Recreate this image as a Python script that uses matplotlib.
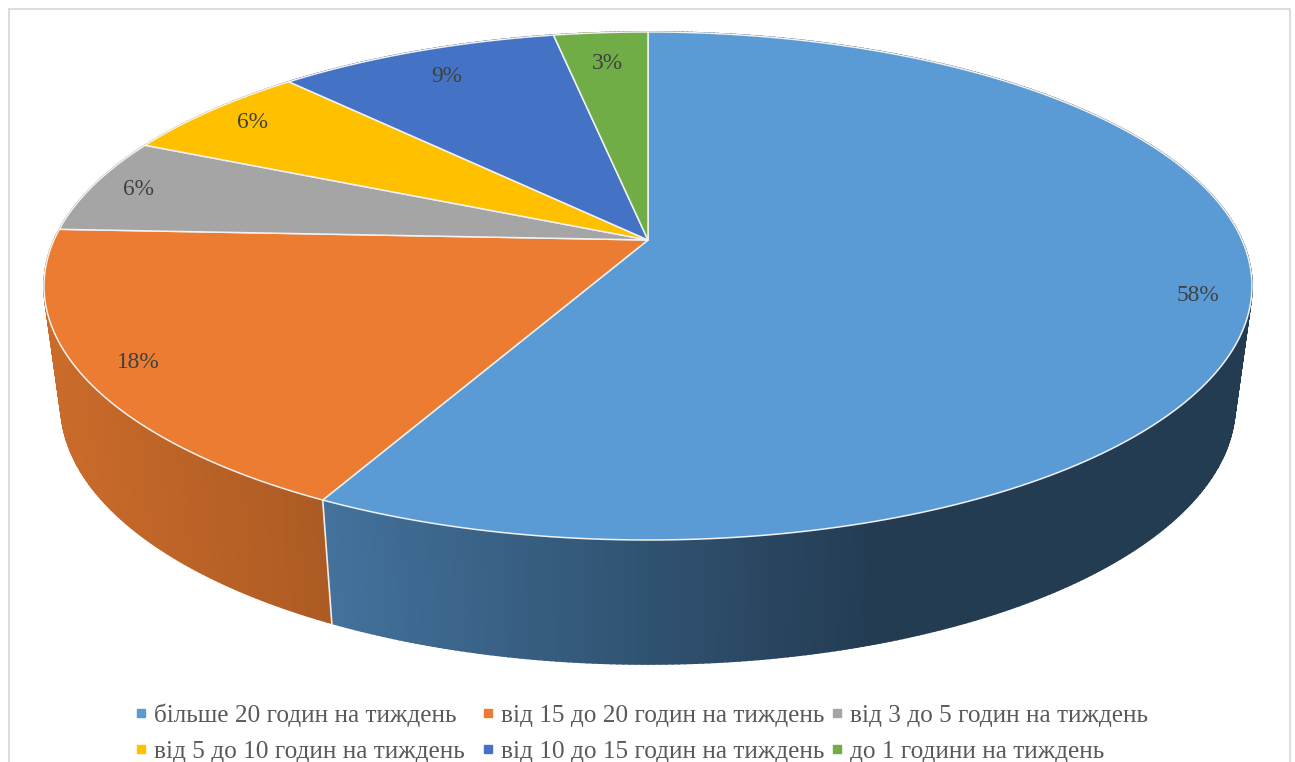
import matplotlib
matplotlib.use('Agg')
import matplotlib.pyplot as plt
import numpy as np
from matplotlib.patches import Polygon, Rectangle

categories = ['більше 20 годин на тиждень', 'від 15 до 20 годин на тиждень',
              'від 3 до 5 годин на тиждень', 'від 5 до 10 годин на тиждень',
              'від 10 до 15 годин на тиждень', 'до 1 години на тиждень']
shares = [57.6, 18.1, 6.1, 6.2, 9.0, 3.0]
colors = ['#5B9BD5', '#EB7C31', '#A5A5A5', '#FFC000', '#4472C4', '#70AD47']

# radial place of each percent label, fraction of the radius
label_r = [0.915, 0.91, 0.916, 0.898, 0.85, 0.83]

# legend grid in pixels, the gaps in the reference are not even
legend_x = [141, 488, 837]
legend_y = [722, 758]

# perspective of the top disc, fitted to the picture in pixels
CX, CY = 648, 240
B, A, K = 594, 245.7, 0.181
TOP_MID, BOTTOM_S = 540, 1.02
BOTTOM_Y, BOTTOM_SX = 664, 0.972


def top_xy(u, v):
    w = 1 + K * v
    return CX + B * u / w, CY - A * v / w


def rim(angle):
    # angle in degrees, clockwise from 12 o'clock
    a = np.radians(angle)
    return top_xy(np.sin(a), np.cos(a))


def lower(x, y):
    return CX + (x - CX) * BOTTOM_SX, BOTTOM_Y - (TOP_MID - y) * BOTTOM_S


def side_shade(x):
    # side gets darker to the right, flat after about x=880
    return np.interp(x, [50, 330, 880], [0.86, 0.73, 0.385])


fig = plt.figure(figsize=(12.95, 7.62), dpi=100)
ax = fig.add_axes([0, 0, 1, 1])
ax.set_xlim(0, 1295)
ax.set_ylim(762, 0)
ax.axis('off')

ax.add_patch(Rectangle((8.5, 8.5), 1281, 780, fc='white', ec='#dcdcdc', lw=1.5))

edges = np.cumsum([0] + shares) / sum(shares) * 360

# side wall first, the top disc covers its back part
for i in range(len(shares)):
    base = np.array(matplotlib.colors.to_rgb(colors[i]))
    steps = np.arange(edges[i], edges[i + 1] + 0.01, 0.5)
    if steps[-1] < edges[i + 1]:
        steps = np.append(steps, edges[i + 1])
    for a0, a1 in zip(steps[:-1], steps[1:]):
        x0, y0 = rim(a0)
        x1, y1 = rim(a1)
        lx0, ly0 = lower(x0, y0)
        lx1, ly1 = lower(x1, y1)
        c = base * side_shade((x0 + x1) / 2)
        ax.add_patch(Polygon([(x0, y0), (x1, y1), (lx1, ly1), (lx0, ly0)],
                             fc=c, ec=c, lw=1.2, zorder=2))

# white seam where two side walls meet (only the front one shows)
x0, y0 = rim(edges[1])
lx0, ly0 = lower(x0, y0)
ax.plot([x0, lx0], [y0, ly0], color='#eeeeee', lw=1.2, zorder=3)

# top wedges
for i in range(len(shares)):
    angs = np.linspace(edges[i], edges[i + 1], 200)
    xs, ys = rim(angs)
    pts = [(CX, CY)] + list(zip(xs, ys))
    ax.add_patch(Polygon(pts, closed=True, fc=colors[i], ec='#f2f2f2', lw=1.1,
                         joinstyle='round', zorder=4))

# percent labels
for i in range(len(shares)):
    mid = np.radians((edges[i] + edges[i + 1]) / 2)
    lx, ly = top_xy(label_r[i] * np.sin(mid), label_r[i] * np.cos(mid))
    ax.text(lx, ly, '%.0f%%' % shares[i], ha='center', va='center', fontsize=16.8,
            family='Liberation Serif', color='#404040', zorder=5)

# legend, three entries per row
for i in range(len(categories)):
    lx = legend_x[i % 3]
    ly = legend_y[i // 3]
    ax.plot(lx, ly - 9.5, ls='', marker='s', ms=5.2, color=colors[i], zorder=5)
    ax.text(lx + 13, ly, categories[i], ha='left', va='baseline', fontsize=18.2,
            family='Liberation Serif', color='#595959', zorder=5)

plt.savefig('out.png', dpi=100)
